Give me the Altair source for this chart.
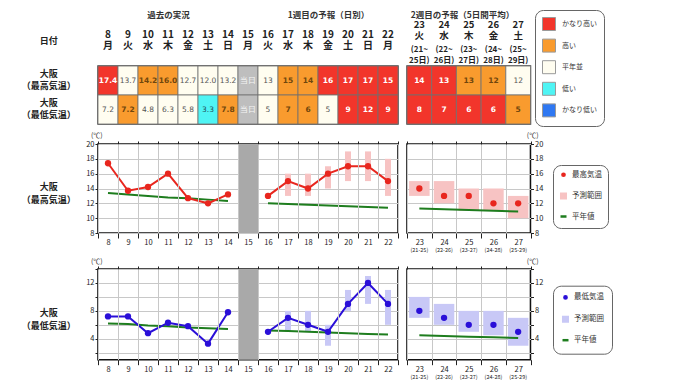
import altair as alt
import pandas as pd

# ---------------- data ----------------
past_days = [8, 9, 10, 11, 12, 13, 14]
past_wd = ["月", "火", "水", "木", "金", "土", "日"]
today_days = [15]
today_wd = ["月"]
fc_days = [16, 17, 18, 19, 20, 21, 22]
fc_wd = ["火", "水", "木", "金", "土", "日", "月"]
w2_days = [23, 24, 25, 26, 27]
w2_wd = ["火", "水", "木", "金", "土"]
w2_start = [21, 22, 23, 24, 25]
w2_end = [25, 26, 27, 28, 29]

high_obs = [17.4, 13.7, 14.2, 16.0, 12.7, 12.0, 13.2]
low_obs = [7.2, 7.2, 4.8, 6.3, 5.8, 3.3, 7.8]
high_fc = [13, 15, 14, 16, 17, 17, 15]
low_fc = [5, 7, 6, 5, 9, 12, 9]
high_fc_lo = [None, 13, 13, 14, 15, 15, 13]
high_fc_hi = [None, 16, 16, 17, 19, 19, 18]
low_fc_lo = [None, 5, 5, 3, 8, 9, 6]
low_fc_hi = [None, 8, 8, 6, 11, 13, 11]
high_w2 = [14, 13, 13, 12, 12]
high_w2_lo = [13, 12, 11, 11, 10]
high_w2_hi = [15, 15, 14, 14, 13]
low_w2 = [8, 7, 6, 6, 5]
low_w2_lo = [7, 6, 5, 4.5, 3]
low_w2_hi = [10, 9, 8, 8, 7]
high_norm_past = [13.4, 13.2, 13.0, 12.8, 12.7, 12.5, 12.3]
high_norm_fc = [12.0, 11.9, 11.8, 11.7, 11.6, 11.5, 11.4]
high_norm_w2 = [11.3, 11.2, 11.1, 11.0, 10.9]
low_norm_past = [6.2, 6.1, 5.9, 5.8, 5.6, 5.5, 5.4]
low_norm_fc = [5.2, 5.1, 5.0, 4.9, 4.8, 4.7, 4.6]
low_norm_w2 = [4.5, 4.4, 4.3, 4.2, 4.1]

high_cat_past = ["かなり高い", "平年並", "高い", "高い", "平年並", "平年並", "平年並"]
high_cat_fc = ["平年並", "高い", "高い", "かなり高い", "かなり高い", "かなり高い", "かなり高い"]
high_cat_w2 = ["かなり高い", "かなり高い", "高い", "高い", "平年並"]
low_cat_past = ["平年並", "高い", "平年並", "平年並", "平年並", "低い", "高い"]
low_cat_fc = ["平年並", "高い", "高い", "平年並", "かなり高い", "かなり高い", "かなり高い"]
low_cat_w2 = ["かなり高い", "かなり高い", "かなり高い", "かなり高い", "高い"]

categories = ["かなり高い", "高い", "平年並", "低い", "かなり低い", "当日"]
today_label = "当日"
row_keys = ["high", "low"]
row_labels = ["大阪\n（最高気温）", "大阪\n（最低気温）"]
head_label = "日付"
section_titles = ["過去の実況", "1週目の予報（日別）", "2週目の予報（5日間平均）"]
legend_high = ["最高気温", "予測範囲", "平年値"]
legend_low = ["最低気温", "予測範囲", "平年値"]
unit_label = "(℃)"

# ---------------- styles ----------------
FILL_COLORS = ["#F2352B", "#F99B2E", "#FFFDF0", "#4FF4F4", "#2F78F2", "#BEBEBE"]
TEXT_COLORS = ["#ffffff", "#70460c", "#555555", "#24505a", "#ffffff", "#f6f6f6"]
RED = "#E8261E"
PINK = "#F7C3C3"
BLUE = "#2A0FD8"
LAVENDER = "#C8C8F6"
GREEN = "#1E7D1E"
GRID = "#c8c8c8"
BAND_GRAY = "#a9a9a9"
JP = "Noto Sans CJK JP"
NUM = "DejaVu Sans"

FILL_SCALE = alt.Scale(domain=categories, range=FILL_COLORS)
TEXT_SCALE = alt.Scale(domain=categories, range=TEXT_COLORS)
ROW_SCALE = alt.Scale(domain=row_keys, paddingInner=0, paddingOuter=0)
COLOR_LEGEND = alt.Legend(
    title=None, orient="none", legendX=128, legendY=-56, values=categories[:5],
    symbolType="square", symbolSize=169, symbolStrokeColor="#9a9a9a", symbolStrokeWidth=1,
    symbolOpacity=1, labelFontSize=7, labelColor="#333", labelOffset=6, rowPadding=3.6,
    padding=7, strokeColor="#666", cornerRadius=8, fillColor="#ffffff", labelFont=JP,
)


def transparent_view():
    return alt.ViewBackground(stroke="transparent")


def table_frame(keys, high_txt, low_txt, high_cat, low_cat):
    rows = []
    for k, ht, lt, hc, lc in zip(keys, high_txt, low_txt, high_cat, low_cat):
        rows.append(dict(key=k, row="high", txt=ht, cat=hc))
        rows.append(dict(key=k, row="low", txt=lt, cat=lc))
    return pd.DataFrame(rows)


def head_line(part, size, pad, title=None, title_x=0):
    """One line of the header, taken from the '|'-separated column key."""
    kw = dict(orient="top", labelExpr=f"split(datum.label, '|')[{part}]",
              labelFontSize=size, labelFontWeight="bold", labelColor="#222",
              labelPadding=pad, labelAngle=0, ticks=False, domain=False, grid=False,
              labelFont=JP)
    if title:
        kw.update(title=title, titleX=title_x, titleY=-56, titleBaseline="top",
                  titleAlign="center", titleFontSize=8.5, titleFontWeight="bold",
                  titleColor="#333", titleFont=JP)
    else:
        kw.update(title=None)
    return alt.Axis(**kw)


def table_chart(df, keys, width, axes, with_legend):
    xs = alt.Scale(domain=keys, paddingInner=0, paddingOuter=0)
    y = alt.Y("row:N", scale=ROW_SCALE, axis=None)

    def xenc(i):
        return alt.X("key:N", scale=xs, axis=axes[i])

    fill_kw = dict(scale=FILL_SCALE)
    fill_kw["legend"] = COLOR_LEGEND if with_legend else None
    rect = alt.Chart(df).mark_rect(stroke="#707070", strokeWidth=0.8).encode(
        x=xenc(0), y=y, fill=alt.Fill("cat:N", **fill_kw))
    tcolor = alt.Color("cat:N", scale=TEXT_SCALE, legend=None)
    groups = [categories[:2], categories[2:3], categories[3:]]
    layers = [rect]
    for i, grp in enumerate(groups):
        mk = dict(fontSize=7.5, font=NUM)
        if i == 0:
            mk["fontWeight"] = "bold"
        layers.append(
            alt.Chart(df).transform_filter(alt.FieldOneOfPredicate(field="cat", oneOf=grp))
            .mark_text(**mk).encode(x=xenc(i + 1), y=y, text="txt:N", color=tcolor))
    return alt.layer(*layers).resolve_axis(x="independent").properties(
        width=width, height=58, view=alt.ViewBackground(stroke="#444", strokeWidth=1.5))


# ---- table row ----
main_keys = [f"{d}|{w}" for d, w in zip(past_days + today_days + fc_days, past_wd + today_wd + fc_wd)]
w2_keys = [f"{d}|{w}|({s}~|{e}日)" for d, w, s, e in zip(w2_days, w2_wd, w2_start, w2_end)]

main_tbl = table_frame(
    main_keys,
    [f"{v:.1f}" for v in high_obs] + [today_label] + [str(v) for v in high_fc],
    [f"{v:.1f}" for v in low_obs] + [today_label] + [str(v) for v in low_fc],
    high_cat_past + [categories[5]] + high_cat_fc,
    low_cat_past + [categories[5]] + low_cat_fc,
)
w2_tbl = table_frame(w2_keys, [str(v) for v in high_w2], [str(v) for v in low_w2],
                     high_cat_w2, low_cat_w2)

t_main = table_chart(main_tbl, main_keys, 300, [
    head_line(0, 10, 27, section_titles[0], 70),
    head_line(1, 10, 15.4, section_titles[1], 230),
    None, None], with_legend=False)
t_w2 = table_chart(w2_tbl, w2_keys, 123.5, [
    head_line(0, 9.5, 36.5, section_titles[2], 55),
    head_line(1, 9.5, 25.5),
    head_line(2, 8, 12.5),
    head_line(3, 8, 1.1)], with_legend=True)

lab_tbl = alt.Chart(pd.DataFrame({"row": row_keys, "label": row_labels})).mark_text(
    lineBreak="\n", fontWeight="bold", fontSize=9, lineHeight=12, color="#222", font=JP, dy=-6.5
).encode(
    y=alt.Y("row:N", scale=ROW_SCALE, axis=None), text="label:N"
).properties(
    width=79.7, height=58, view=transparent_view(),
    title=alt.TitleParams(head_label, fontSize=9, fontWeight="bold", color="#222",
                          anchor="middle", offset=20, font=JP),
)

# ---- temperature charts ----
main_days = past_days + today_days + fc_days
XS_MAIN = alt.Scale(domain=main_days, paddingInner=0, paddingOuter=0)
w2_chart_keys = [f"{d}|({s}-{e})" for d, s, e in zip(w2_days, w2_start, w2_end)]
XS_W2 = alt.Scale(domain=w2_chart_keys, paddingInner=0, paddingOuter=0)


def bottom_axis(expr=None):
    kw = dict(orient="bottom", tickBand="extent", grid=True, gridColor=GRID, gridWidth=1,
              ticks=True, tickSize=5, tickColor="#222", labelFontSize=7.5, labelPadding=0.5,
              labelColor="#222", domain=False, title=None, labelAngle=0)
    if expr:
        kw["labelExpr"] = expr
    return alt.Axis(**kw)


def top_axis():
    return alt.Axis(orient="top", tickBand="extent", grid=False, ticks=True, tickSize=3,
                    tickColor="#222", labels=False, domain=False, title=None)


def y_axis(orient, values, expr=None):
    kw = dict(orient=orient, values=values, grid=True, gridColor=GRID, tickSize=3,
              tickColor="#222", labelFontSize=7.5, labelPadding=1, labelColor="#222",
              domain=False, title=None)
    if expr:
        kw["labelExpr"] = expr
    return alt.Axis(**kw)


def unit_title(anchor, dx):
    return alt.TitleParams(unit_label, anchor=anchor, frame="group", dx=dx, fontSize=7,
                           fontWeight="normal", color="#333", offset=1, font=JP)


def main_panel(obs, fc, lo, hi, norm_past, norm_fc, color, rcolor, ydom, yvals, height, expr=None):
    seg = ["past"] * len(past_days) + ["fc"] * len(fc_days)
    line_df = pd.DataFrame({"day": past_days + fc_days, "val": obs + fc, "seg": seg})
    norm_df = pd.DataFrame({"day": past_days + fc_days, "val": norm_past + norm_fc, "seg": seg})
    rng_df = pd.DataFrame({"day": fc_days, "lo": lo, "hi": hi}).dropna()
    today_df = pd.DataFrame({"day": today_days})
    ys = alt.Scale(domain=ydom, nice=False, zero=False)
    band = alt.Chart(today_df).mark_rect(color=BAND_GRAY).encode(
        x=alt.X("day:O", scale=XS_MAIN, axis=bottom_axis()))
    rng = alt.Chart(rng_df).mark_bar(size=6, color=rcolor).encode(
        x=alt.X("day:O", scale=XS_MAIN, axis=top_axis()),
        y=alt.Y("lo:Q", scale=ys, axis=y_axis("left", yvals, expr)), y2="hi:Q")
    norm = alt.Chart(norm_df).mark_line(color=GREEN, strokeWidth=2).encode(
        x=alt.X("day:O", scale=XS_MAIN, axis=None),
        y=alt.Y("val:Q", scale=ys, axis=None), detail="seg:N")
    line = alt.Chart(line_df).mark_line(color=color, strokeWidth=2).encode(
        x=alt.X("day:O", scale=XS_MAIN, axis=None),
        y=alt.Y("val:Q", scale=ys, axis=None), detail="seg:N")
    pts = alt.Chart(line_df).mark_point(filled=True, size=40, color=color, opacity=1).encode(
        x=alt.X("day:O", scale=XS_MAIN, axis=None),
        y=alt.Y("val:Q", scale=ys, axis=None))
    return alt.layer(band, rng, norm, line, pts).resolve_axis(
        x="independent", y="independent").properties(
        width=300, height=height,
        view=alt.ViewBackground(stroke="#111", strokeWidth=1.6),
        title=unit_title("start", -7),
    )


def w2_panel(vals, lo, hi, norm, color, rcolor, ydom, yvals, height, items, leg_y,
             leg_pad, leg_row, expr=None):
    df = pd.DataFrame({"key": w2_chart_keys, "val": vals, "lo": lo, "hi": hi, "norm": norm})
    ys = alt.Scale(domain=ydom, nice=False, zero=False)
    rng = alt.Chart(df).mark_bar(size=20.5, color=rcolor).encode(
        x=alt.X("key:N", scale=XS_W2, axis=bottom_axis("split(datum.label, '|')[0]")),
        y=alt.Y("lo:Q", scale=ys, axis=y_axis("right", yvals, expr)), y2="hi:Q")
    nline = alt.Chart(df).mark_line(color=GREEN, strokeWidth=2).encode(
        x=alt.X("key:N", scale=XS_W2, axis=top_axis()),
        y=alt.Y("norm:Q", scale=ys, axis=None))
    pts = alt.Chart(df).mark_point(filled=True, size=40, color=color, opacity=1).encode(
        x=alt.X("key:N", scale=XS_W2, axis=alt.Axis(
            orient="bottom", labelExpr="split(datum.label, '|')[1]", ticks=False, grid=False,
            domain=False, labelFontSize=5.5, labelPadding=14.5, labelColor="#222",
            title=None, labelAngle=0)),
        y=alt.Y("val:Q", scale=ys, axis=None))
    # legend entries (symbols only, the marks themselves are hidden)
    leg = alt.Legend(title=None, orient="none", legendX=146, legendY=leg_y,
                     labelFontSize=7.5, labelColor="#333", labelOffset=4, labelFont=JP,
                     symbolStrokeWidth=2.5, symbolOpacity=1, rowPadding=leg_row,
                     padding=leg_pad, strokeColor="#666", cornerRadius=8, fillColor="#ffffff")
    leg_df = pd.DataFrame({"item": items})
    cols = alt.Scale(domain=items, range=[color, rcolor, GREEN])
    keyed = alt.Chart(leg_df).mark_point(filled=True, opacity=0).encode(
        fill=alt.Fill("item:N", scale=cols, legend=leg),
        stroke=alt.Stroke("item:N", scale=cols, legend=leg),
        shape=alt.Shape("item:N", scale=alt.Scale(domain=items, range=["circle", "square", "stroke"]), legend=leg),
        size=alt.Size("item:N", scale=alt.Scale(domain=items, range=[5, 36, 100]), legend=leg),
    )
    return alt.layer(rng, nline, pts, keyed).resolve_axis(
        x="independent", y="independent").properties(
        width=123.5, height=height,
        view=alt.ViewBackground(stroke="#111", strokeWidth=1.6),
        title=unit_title("end", 8),
    )


def row_label(text, height, dy):
    return alt.Chart(pd.DataFrame({"label": [text]})).mark_text(
        lineBreak="\n", fontWeight="bold", fontSize=9, lineHeight=13, color="#222", dy=dy, font=JP
    ).encode(text="label:N").properties(width=79.7, height=height, view=transparent_view())


H_HIGH = 89
H_LOW = 90.7
high_vals = list(range(8, 21, 2))
low_vals = list(range(2, 15, 2))
low_expr = "datum.value % 4 == 0 ? datum.label : ''"

cells = [
    lab_tbl, t_main, t_w2,
    row_label(row_labels[0], 105, -9.5),
    main_panel(high_obs, high_fc, high_fc_lo, high_fc_hi, high_norm_past, high_norm_fc,
               RED, PINK, [8, 20], high_vals, H_HIGH),
    w2_panel(high_w2, high_w2_lo, high_w2_hi, high_norm_w2, RED, PINK, [8, 20], high_vals,
             H_HIGH, legend_high, 21, 6, 7),
    row_label(row_labels[1], H_LOW, -1.5),
    main_panel(low_obs, low_fc, low_fc_lo, low_fc_hi, low_norm_past, low_norm_fc,
               BLUE, LAVENDER, [1, 14], low_vals, H_LOW, low_expr),
    w2_panel(low_w2, low_w2_lo, low_w2_hi, low_norm_w2, BLUE, LAVENDER, [1, 14], low_vals,
             H_LOW, legend_low, 16.7, 8, 7.5, low_expr),
]

chart = alt.concat(
    *cells, columns=3, spacing=alt.RowColnumber(row=20, column=9), align="each", bounds="flush",
).resolve_scale(
    fill="independent", stroke="independent", shape="independent", size="independent",
    color="independent",
).properties(padding=0).configure(font=JP).configure_axis(labelFont=JP)

chart.save("out.html", embed_options={"renderer": "svg", "actions": False})
